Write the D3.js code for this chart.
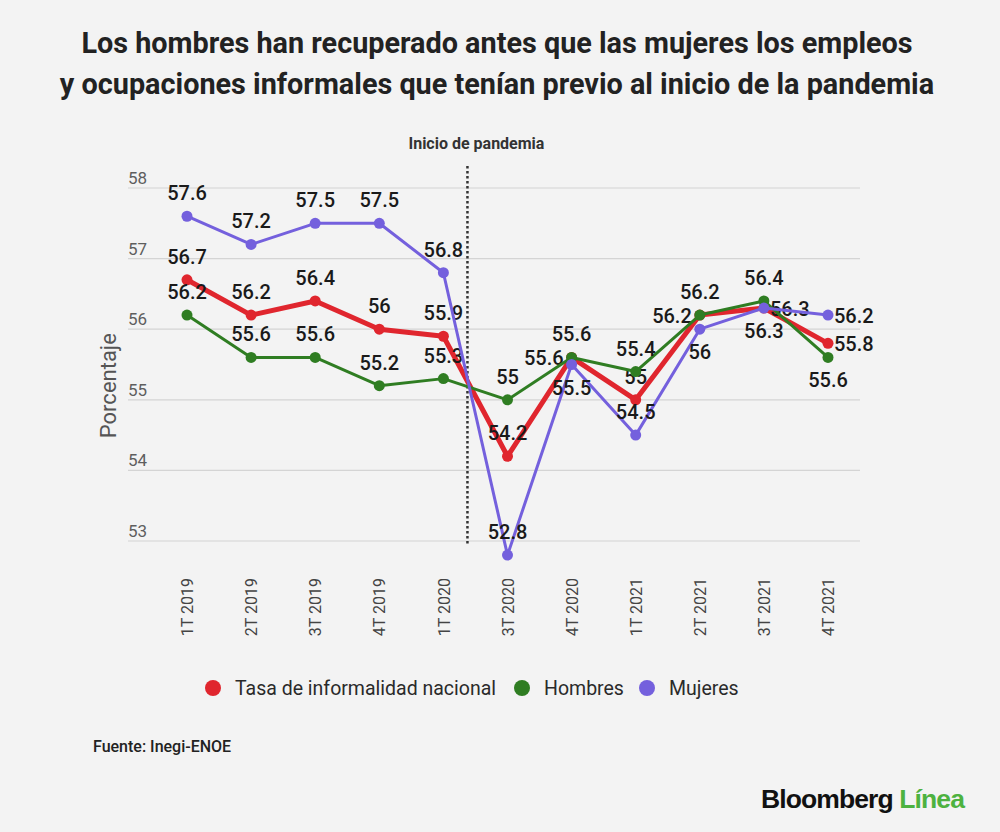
<!DOCTYPE html>
<html>
<head>
<meta charset="utf-8">
<script src="https://cdn.jsdelivr.net/npm/d3@7"></script>
<style>
  body { margin: 0; background: #f3f3f3; }
  svg { display: block; font-family: Roboto, "Noto Sans", sans-serif; }
</style>
</head>
<body>
<svg id="chart"></svg>
<script>
const categories = ["1T 2019", "2T 2019", "3T 2019", "4T 2019", "1T 2020", "3T 2020",
    "4T 2020", "1T 2021", "2T 2021", "3T 2021", "4T 2021"];

const tasaNacional = [56.7, 56.2, 56.4, 56.0, 55.9, 54.2, 55.6, 55.0, 56.2, 56.3, 55.8];
const hombres = [56.2, 55.6, 55.6, 55.2, 55.3, 55.0, 55.6, 55.4, 56.2, 56.4, 55.6];
const mujeres = [57.6, 57.2, 57.5, 57.5, 56.8, 52.8, 55.5, 54.5, 56.0, 56.3, 56.2];

const yTicks = [53, 54, 55, 56, 57, 58];

// where each value label sits relative to its point
const tasaPos = ["top", "top", "top", "top", "top", "top", "left", "top", "left", "right", "right"];
const hombresPos = ["top", "top", "top", "top", "top", "top", "top", "top", "top", "top", "bottom"];
const mujeresPos = ["top", "top", "top", "top", "top", "top", "bottom", "top", "bottom", "bottom", "right"];

const series = [
    { name: "Tasa de informalidad nacional", values: tasaNacional, pos: tasaPos, color: "#e0262e", width: 5 },
    { name: "Hombres", values: hombres, pos: hombresPos, color: "#2f7d22", width: 3 },
    { name: "Mujeres", values: mujeres, pos: mujeresPos, color: "#7460dd", width: 3 }
];

const width = 1000, height = 832;
const svg = d3.select("#chart")
    .attr("width", width)
    .attr("height", height);

svg.append("rect")
    .attr("width", width)
    .attr("height", height)
    .attr("fill", "#f3f3f3");

// title
svg.append("text")
    .attr("x", 497)
    .attr("text-anchor", "middle")
    .attr("font-size", 28.8)
    .attr("font-weight", 700)
    .attr("fill", "#222")
    .selectAll("tspan")
    .data(["Los hombres han recuperado antes que las mujeres los empleos",
           "y ocupaciones informales que tenían previo al inicio de la pandemia"])
    .join("tspan")
        .attr("x", 497)
        .attr("y", (d, i) => 53 + i * 41)
        .text(d => d);

const x = d3.scalePoint()
    .domain(categories)
    .range([187, 828]);

const y = d3.scaleLinear()
    .domain([53, 58])
    .range([541, 188]);

// grid
const grid = svg.append("g");
grid.selectAll("line")
    .data(yTicks)
    .join("line")
        .attr("x1", 128)
        .attr("x2", 860)
        .attr("y1", d => y(d))
        .attr("y2", d => y(d))
        .attr("stroke", "#d4d4d4")
        .attr("stroke-width", 1.2);

grid.selectAll("text")
    .data(yTicks)
    .join("text")
        .attr("x", 128)
        .attr("y", d => y(d) - 4)
        .attr("font-size", 17)
        .attr("fill", "#5e5e5e")
        .text(d => d);

svg.append("text")
    .attr("transform", `translate(116, ${y(55.2)}) rotate(-90)`)
    .attr("text-anchor", "middle")
    .attr("font-size", 22)
    .attr("fill", "#555")
    .text("Porcentaje");

// x labels
const xAxis = svg.append("g")
    .attr("transform", "translate(0, 578)")
    .call(d3.axisBottom(x).tickSize(0).tickPadding(0));
xAxis.select(".domain").remove();
xAxis.selectAll("text")
    .attr("transform", "rotate(-90)")
    .attr("text-anchor", "end")
    .attr("x", 0)
    .attr("y", 0)
    .attr("dy", "0.35em")
    .attr("font-size", 16)
    .attr("font-family", "Roboto, sans-serif")
    .attr("fill", "#444");

// pandemic marker
const pandemicX = (x("1T 2020") + x("3T 2020")) / 2 - 8;
svg.append("line")
    .attr("x1", pandemicX)
    .attr("x2", pandemicX)
    .attr("y1", 166)
    .attr("y2", 546)
    .attr("stroke", "#333")
    .attr("stroke-width", 2.5)
    .attr("stroke-dasharray", "2.5,2.5");

svg.append("text")
    .attr("x", pandemicX + 9)
    .attr("y", 149)
    .attr("text-anchor", "middle")
    .attr("font-size", 16)
    .attr("font-weight", 700)
    .attr("fill", "#333")
    .text("Inicio de pandemia");

// lines
const line = d3.line()
    .x((d, i) => x(categories[i]))
    .y(d => y(d));

const groups = svg.selectAll(".series")
    .data(series)
    .join("g")
        .attr("class", "series");

groups.append("path")
    .attr("d", d => line(d.values))
    .attr("fill", "none")
    .attr("stroke", d => d.color)
    .attr("stroke-width", d => d.width)
    .attr("stroke-linejoin", "round");

groups.selectAll("circle")
    .data(d => d.values.map(v => ({ v, color: d.color })))
    .join("circle")
        .attr("cx", (d, i) => x(categories[i]))
        .attr("cy", d => y(d.v))
        .attr("r", 5.5)
        .attr("fill", d => d.color);

// value labels
const labelOffset = {
    top: { dx: 0, dy: -16, anchor: "middle" },
    bottom: { dx: 0, dy: 30, anchor: "middle" },
    left: { dx: -8, dy: 8, anchor: "end" },
    right: { dx: 6, dy: 8, anchor: "start" }
};

groups.selectAll(".val")
    .data(d => d.values.map((v, i) => ({ v, p: labelOffset[d.pos[i]], i })))
    .join("text")
        .attr("class", "val")
        .attr("x", d => x(categories[d.i]) + d.p.dx)
        .attr("y", d => y(d.v) + d.p.dy)
        .attr("text-anchor", d => d.p.anchor)
        .attr("font-size", 20)
        .attr("font-weight", 500)
        .attr("fill", "#1a1a1a")
        .text(d => d.v);

// legend
const legendItems = [
    { name: series[0].name, color: series[0].color, x: 213 },
    { name: series[1].name, color: series[1].color, x: 522 },
    { name: series[2].name, color: series[2].color, x: 647 }
];
const legend = svg.append("g");
legend.selectAll("circle")
    .data(legendItems)
    .join("circle")
        .attr("cx", d => d.x)
        .attr("cy", 688)
        .attr("r", 8)
        .attr("fill", d => d.color);
legend.selectAll("text")
    .data(legendItems)
    .join("text")
        .attr("x", d => d.x + 22)
        .attr("y", 695)
        .attr("font-size", 19.5)
        .attr("fill", "#2a2a2a")
        .text(d => d.name);

// footer
svg.append("text")
    .attr("x", 93)
    .attr("y", 752)
    .attr("font-size", 16)
    .attr("font-weight", 500)
    .attr("fill", "#222")
    .text("Fuente: Inegi-ENOE");

const brand = svg.append("text")
    .attr("x", 964)
    .attr("y", 808)
    .attr("text-anchor", "end")
    .attr("font-family", "'Liberation Sans', Arial, sans-serif")
    .attr("font-size", 26.5)
    .attr("font-weight", 700)
    .attr("letter-spacing", -0.9);
brand.append("tspan").attr("fill", "#111").text("Bloomberg ");
brand.append("tspan").attr("fill", "#4db240").text("Línea");
</script>
</body>
</html>
